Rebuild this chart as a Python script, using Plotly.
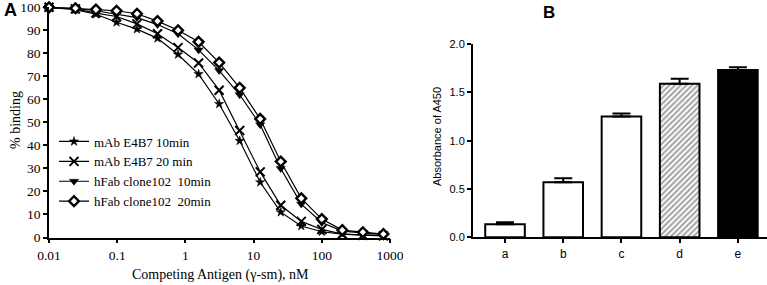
import plotly.graph_objects as go

# ---------------- data ----------------
conc = [0.01, 0.0244, 0.0488, 0.0977, 0.195, 0.39, 0.78, 1.56, 3.125, 6.25,
        12.5, 25, 50, 100, 200, 400, 800]
mab_10 = [100, 99, 97, 93.5, 90.5, 86.5, 79.5, 71, 58, 42, 24, 11, 5, 2.5, 1.5, 1.2, 0.8]
mab_20 = [100, 99.3, 97.5, 96, 92.8, 88.5, 82.5, 75.8, 64, 46.5, 28.5, 14, 7, 3.5, 1.5, 1, 0.7]
hfab_10 = [100, 99.5, 98.5, 97, 95.5, 92.5, 88.5, 81.5, 72.5, 62, 49, 30, 14.5, 6.5, 2.8, 2, 1.2]
hfab_20 = [100, 99.6, 99, 98.5, 97.2, 94, 90, 85, 76, 65, 51.5, 33, 17, 8, 3.2, 2.3, 1.5]
series_names = ["mAb E4B7 10min", "mAb E4B7 20 min", "hFab clone102  10min", "hFab clone102  20min"]

x_tickvals = [0.01, 0.1, 1, 10, 100, 1000]
x_ticktext = ["0.01", "0.1", "1", "10", "100", "1000"]

bar_cats = ["a", "b", "c", "d", "e"]
bar_vals = [0.135, 0.57, 1.25, 1.59, 1.73]
bar_err = [0.02, 0.04, 0.03, 0.05, 0.03]

W, H = 767, 285
def px(x):
    return x / W
def py(y):
    return 1 - y / H

SERIF = "Liberation Serif"
SANS = "Liberation Sans"

fig = go.Figure()

markers = [
    dict(symbol="star", size=7, color="black", line=dict(color="black", width=0.5)),
    dict(symbol="x-thin-open", size=9, color="black", line=dict(color="black", width=2)),
    dict(symbol="triangle-down", size=8, color="black", line=dict(color="black", width=0.5)),
    dict(symbol="diamond", size=7.5, color="white", line=dict(color="black", width=2.4)),
]
for name, vals, mk in zip(series_names, [mab_10, mab_20, hfab_10, hfab_20], markers):
    fig.add_trace(go.Scatter(
        x=conc, y=vals, name=name, mode="lines+markers",
        line=dict(color="black", width=1.2), marker=mk,
        cliponaxis=False, xaxis="x", yaxis="y",
    ))

bar_colors = ["white", "white", "white", "white", "black"]
fig.add_trace(go.Bar(
    x=bar_cats, y=bar_vals, xaxis="x2", yaxis="y2", showlegend=False,
    width=0.68,
    marker=dict(color=bar_colors, line=dict(color="black", width=2),
                pattern=dict(shape=["", "", "", "/", ""], fgcolor="black",
                             bgcolor="white", size=4, solidity=0.5)),
    error_y=dict(type="data", array=bar_err, arrayminus=[0] * 5, symmetric=False,
                 color="black", thickness=2, width=9),
))

fig.update_layout(
    width=W, height=H,
    margin=dict(l=0, r=0, t=0, b=0, autoexpand=False),
    paper_bgcolor="white", plot_bgcolor="white",
    showlegend=True,
    legend=dict(x=px(54), y=py(126.5), xanchor="left", yanchor="top",
                font=dict(family=SERIF, size=13, color="black"),
                bgcolor="rgba(0,0,0,0)", tracegroupgap=0, itemwidth=30),
    xaxis=dict(type="log", range=[-2, 3], domain=[px(49), px(390)],
               anchor="y", showgrid=False, zeroline=False, automargin=False,
               showline=True, linecolor="black", linewidth=1.8,
               ticks="outside", ticklen=4, tickwidth=1.5, tickcolor="black",
               tickvals=x_tickvals, ticktext=x_ticktext,
               tickfont=dict(family=SERIF, size=13.5, color="black")),
    yaxis=dict(range=[0, 100], domain=[py(237.5), py(7.3)], anchor="x",
               showgrid=False, zeroline=False, automargin=False,
               showline=True, linecolor="black", linewidth=1.8,
               ticks="outside", ticklen=4, tickwidth=1.5, tickcolor="black",
               tickvals=list(range(0, 101, 10)),
               tickfont=dict(family=SERIF, size=13.5, color="black")),
    xaxis2=dict(type="category", range=[-0.55, 4.5], domain=[px(473), 1.0],
                anchor="y2", showgrid=False, zeroline=False, automargin=False,
                showline=True, linecolor="black", linewidth=2,
                ticks="outside", ticklen=4, tickwidth=1.5, tickcolor="black",
                tickfont=dict(family=SANS, size=12, color="black")),
    yaxis2=dict(range=[0, 2.0], domain=[py(237.3), py(44)], anchor="x2",
                showgrid=False, zeroline=False, automargin=False,
                showline=True, linecolor="black", linewidth=2,
                ticks="outside", ticklen=4, tickwidth=1.5, tickcolor="black",
                tickvals=[0, 0.5, 1.0, 1.5, 2.0], tickformat=".1f",
                tickfont=dict(family=SANS, size=11, color="black")),
)

annos = [
    dict(text="<b>A</b>", x=px(10), y=py(10), font=dict(family=SANS, size=18)),
    dict(text="<b>B</b>", x=px(549), y=py(12), font=dict(family=SANS, size=17)),
    dict(text="% binding", x=px(15), y=py(120), textangle=-90, font=dict(family=SERIF, size=14)),
    dict(text="Competing Antigen (γ-sm), nM", x=px(220), y=py(275), font=dict(family=SERIF, size=14)),
    dict(text="Absorbance of A450", x=px(437), y=py(137), textangle=-90, font=dict(family=SANS, size=11)),
]
for a in annos:
    a["font"]["color"] = "black"
    fig.add_annotation(xref="paper", yref="paper", showarrow=False,
                       xanchor="center", yanchor="middle", **a)

fig.write_html("out.html", config={"displayModeBar": False},
               post_script="document.body.style.margin='0';")
